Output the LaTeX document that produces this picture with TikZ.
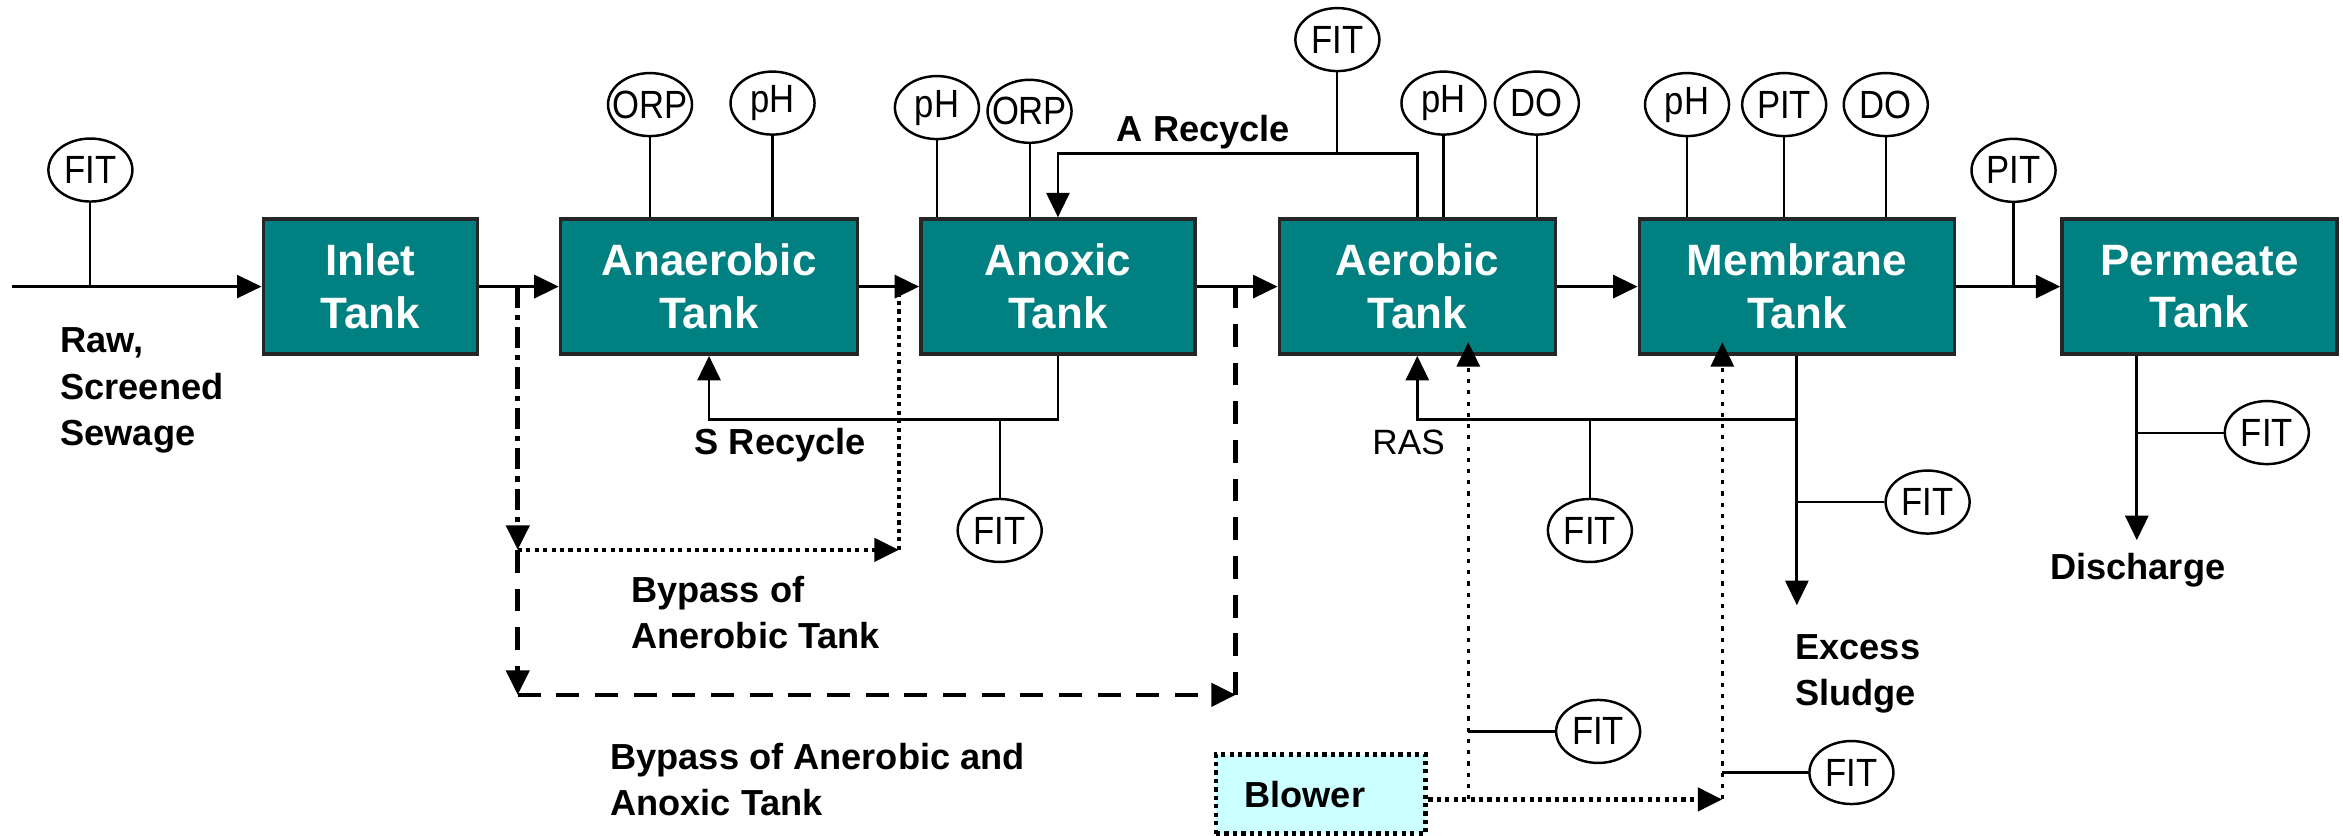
\documentclass[tikz,border=0pt]{standalone}
\usepackage{fontspec}
\setmainfont{Liberation Sans}
\newfontfamily\narrowsans{Liberation Sans}[FakeStretch=0.88]
\usetikzlibrary{shapes.geometric,arrows.meta}
\definecolor{tankteal}{HTML}{008080}
\definecolor{blowercyan}{HTML}{CCFFFF}
\begin{document}
\begin{tikzpicture}[x=0.1494mm,y=-0.1494mm,
	tank/.style={draw=black!85, line width=1pt, fill=tankteal, text=white, align=center, inner sep=0pt, minimum height=13.5mm, font=\bfseries\fontsize{12.5}{15}\selectfont},
	sensor/.style={ellipse, draw, line width=0.7pt, minimum width=8.4mm, minimum height=6.3mm, inner xsep=-3pt, inner ysep=0pt, font=\narrowsans\fontsize{11.2}{13}\selectfont},
	lbl/.style={inner sep=0pt, align=left, font=\bfseries\fontsize{10.3}{13.2}\selectfont},
	tip/.style={-{Triangle[length=2.45mm,width=2.3mm]}},
	flow/.style={line width=0.9pt, tip},
	pipe/.style={line width=0.8pt},
	tap/.style={line width=0.6pt},
	dashdot/.style={line width=1.3pt, dash pattern=on 6pt off 2pt on 1.5pt off 2pt},
	dots/.style={line width=1.3pt, dash pattern=on 1.2pt off 1.2pt},
	dashes/.style={line width=1.3pt, dash pattern=on 6.5pt off 4.5pt},
	air/.style={line width=1pt, dash pattern=on 1.2pt off 2pt},
	blower/.style={draw, fill=blowercyan, line width=1.4pt, dash pattern=on 1.2pt off 1.2pt, minimum height=7.9mm, text width=15.3mm, inner xsep=2.84mm, align=left, font=\bfseries\fontsize{10.3}{13.2}\selectfont}]
\useasboundingbox (0,0) rectangle (1568,559);

%Becken
\node[tank, minimum width=21.4mm] (inlet) at (247.8,191.8) {Inlet\\Tank};
\node[tank, minimum width=29.7mm] (anaer) at (474.5,191.8) {Anaerobic\\Tank};
\node[tank, minimum width=27.4mm] (anox) at (708,191.8) {Anoxic\\Tank};
\node[tank, minimum width=27.6mm] (aer) at (948.5,191.8) {Aerobic\\Tank};
\node[tank, minimum width=31.5mm] (memb) at (1202.5,191.8) {Membrane\\Tank};
\node[tank, minimum width=27.5mm] (perm) at (1472,191.8) {Permeate\\Tank};

%Hauptstrom
\coordinate (raw) at (8,191.8);
\draw[tip, line width=0.7pt] (raw) -- (inlet);
\draw[flow] (inlet) -- (anaer);
\draw[flow] (anaer) -- (anox);
\draw[flow] (anox) -- (aer);
\draw[flow] (aer) -- (memb);
\draw[flow] (memb) -- (perm);

%Messstellen
\foreach \n/\t/\x/\y in
{
fitR/FIT/60.5/113.8,
orpA/ORP/435/70,
phA/pH/517/69,
phN/pH/627/72,
orpN/ORP/689/74.5,
fitA/FIT/895/26.5,
phO/pH/966/69,
doO/DO/1028.5/69,
phM/pH/1129/70,
pitM/PIT/1194/70,
doM/DO/1262/70,
pitP/PIT/1347.5/114,
fitS/FIT/669/355,
fitRAS/FIT/1064/355,
fitX/FIT/1290/336,
fitD/FIT/1517/289.5,
fitB/FIT/1069.5/489.5,
fitC/FIT/1239/517}
{
	\node[sensor] (\n) at (\x,\y) {\t};
}

\foreach \n/\b in {orpA/anaer, phA/anaer, phN/anox, orpN/anox, phO/aer, doO/aer, phM/memb, pitM/memb, doM/memb}
{
	\draw[tap] (\n.south) -- (\n.south |- \b.north);
}
\draw[tap] (fitR.south) -- (fitR.south |- raw);
\draw[tap] (pitP.south) -- (pitP.south |- perm.west);

%Rueckfuehrungen
\coordinate (arec) at (895,102.7);
\draw[pipe, tip] (aer.north) |- (arec) -| (anox.north);
\draw[tap] (fitA.south) -- (arec);
\node[lbl, anchor=base west] (arectxt) at (747,94.8) {A Recycle};

\coordinate (srec) at (669,281);
\draw[pipe, tip] (anox.south) |- (srec) -| (anaer.south);
\draw[tap] (srec) -- (fitS.north);
\node[lbl, anchor=base west] (srectxt) at (464.5,304) {S Recycle};

\coordinate (ras) at (1064,281);
\draw[pipe, tip] (memb.south) |- (ras) -| (aer.south);
\draw[tap] (ras) -- (fitRAS.north);
\node[anchor=base west, inner sep=0pt, font=\fontsize{10}{12}\selectfont] (rastxt) at (918,304) {RAS};

%Ueberschussschlamm und Ablauf
\coordinate (sludge) at (1202.5,405);
\draw[pipe, tip] (memb.south) -- (sludge);
\draw[tap] (fitX.west) -- (fitX.west -| sludge);
\node[lbl, anchor=north west] (sludgetxt) at (1201,424) {Excess\\Sludge};

\coordinate (dis) at (1430,361.5);
\draw[pipe, tip] (dis |- perm.south) -- (dis);
\draw[tap] (fitD.west) -- (fitD.west -| dis);
\node[lbl, anchor=base west] (distxt) at (1371.6,388) {Discharge};

%Bypass
\coordinate (bp1) at (346.5,191.8);
\coordinate (bp2) at (346.5,368);
\coordinate (bp3) at (346.5,465);
\coordinate (bq1) at (601.5,368);
\coordinate (bq2) at (827,465);
\draw[dashdot, tip] (bp1) -- (bp2);
\draw[dots, tip] (bp2) -- (bq1);
\draw[dots] (bq1) -- (bq1 |- anox.west);
\draw[dashes, tip] (bp2) -- (bp3);
\draw[dashes, tip] (bp3) -- (bq2);
\draw[dashes] (bq2) -- (bq2 |- aer.west);
\node[lbl, anchor=north west] (bp1txt) at (422,385) {Bypass of\\Anerobic Tank};
\node[lbl, anchor=north west] (bp2txt) at (408,497) {Bypass of Anerobic and\\Anoxic Tank};

%Beluftung
\node[blower] (blower) at (884,531.4) {Blower};
\coordinate (bl1) at (982.6,535);
\coordinate (bl2) at (1152.6,535);
\draw[dots, tip] (blower.east |- bl1) -- (bl2);
\draw[air, tip] (bl1) -- (982.6,229);
\draw[air, tip] (bl2) -- (1152.6,229);
\draw[tap] (fitB.west) -- (fitB.west -| bl1);
\draw[tap] (fitC.west) -- (fitC.west -| bl2);

\node[lbl, anchor=north west] (rawtxt) at (40,219) {Raw,\\Screened\\Sewage};

\end{tikzpicture}
\end{document}
